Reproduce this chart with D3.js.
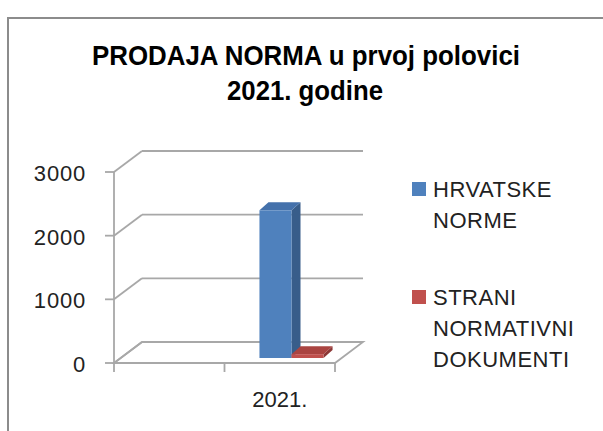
<!DOCTYPE html>
<html>
<head>
<meta charset="utf-8">
<script src="https://cdn.jsdelivr.net/npm/d3@7"></script>
<style>
  html, body { margin: 0; padding: 0; background: #fff; }
  svg { display: block; }
</style>
</head>
<body>
<svg id="chart" width="603" height="431"></svg>
<script>
// ---- data ----
const categories = ["", "2021."];
const hrvatskeNorme = [null, 2320];
const straniDokumenti = [null, 60];
const seriesNames = ["HRVATSKE NORME", "STRANI NORMATIVNI DOKUMENTI"];
const legendLines = [["HRVATSKE", "NORME"], ["STRANI", "NORMATIVNI", "DOKUMENTI"]];
const yTicks = [0, 1000, 2000, 3000];
const titleLines = ["PRODAJA NORMA u prvoj polovici", "2021. godine"];

// ---- layout ----
const svg = d3.select("#chart");
const font = "'Liberation Sans', Arial, sans-serif";
const grid = "#a8a8a8";
const depth = { dx: 28, dy: -21 };

const x = d3.scaleBand().domain(categories).range([114, 335]).padding(0);
const y = d3.scaleLinear().domain([0, 3000]).range([363, 172]);

// frame
svg.append("rect").attr("x", 8).attr("y", 18).attr("width", 700).attr("height", 500)
  .attr("fill", "#fff").attr("stroke", "#8c8c8c").attr("stroke-width", 2);

// title
const tl = svg.append("g").attr("font-family", font).attr("font-weight", "bold")
  .attr("fill", "#000").attr("text-anchor", "middle");
tl.append("text").attr("x", 306).attr("y", 65).attr("font-size", 28)
  .attr("textLength", 428).attr("lengthAdjust", "spacingAndGlyphs").text(titleLines[0]);
tl.append("text").attr("x", 305).attr("y", 100).attr("font-size", 28)
  .attr("textLength", 156).attr("lengthAdjust", "spacingAndGlyphs").text(titleLines[1]);

// walls: gridlines
const x0 = x.range()[0], x1 = x.range()[1];
const gWall = svg.append("g").attr("stroke", grid).attr("stroke-width", 1.8).attr("fill", "none");
// floor
const y0 = y(0);
gWall.append("path")
  .attr("d", `M${x0},${y0} L${x1},${y0} L${x1 + depth.dx},${y0 + depth.dy} L${x0 + depth.dx},${y0 + depth.dy} Z`)
  .attr("fill", "#fff");
yTicks.forEach(t => {
  const yy = y(t);
  // side wall diagonal
  gWall.append("line").attr("x1", x0).attr("y1", yy).attr("x2", x0 + depth.dx).attr("y2", yy + depth.dy);
  // back wall gridline
  gWall.append("line").attr("x1", x0 + depth.dx).attr("y1", yy + depth.dy)
    .attr("x2", x1 + depth.dx).attr("y2", yy + depth.dy);
});
// value axis
gWall.append("line").attr("x1", x0).attr("y1", y(3000)).attr("x2", x0).attr("y2", y0 + 1);
yTicks.forEach(t => {
  gWall.append("line").attr("x1", x0 - 9).attr("y1", y(t)).attr("x2", x0).attr("y2", y(t));
});
// category ticks
const bounds = categories.map(c => x(c)).concat([x1]);
bounds.forEach(b => {
  gWall.append("line").attr("x1", b).attr("y1", y0).attr("x2", b).attr("y2", y0 + 9);
});

// y labels
svg.append("g").attr("font-family", font).attr("font-size", 22).attr("fill", "#222")
  .attr("text-anchor", "end").attr("letter-spacing", 0.8)
  .selectAll("text").data(yTicks).join("text")
  .attr("x", 86).attr("y", d => y(d) + 9).text(d => d);

// x labels
svg.append("g").attr("font-family", font).attr("font-size", 22).attr("fill", "#222")
  .attr("text-anchor", "middle")
  .selectAll("text").data(categories.filter(c => c !== "")).join("text")
  .attr("x", c => x(c) + x.bandwidth() / 2).attr("y", 407).text(c => c);

// bars (3D columns)
const series = [
  { values: hrvatskeNorme, front: "#4f81bd", top: "#4471ab", side: "#385d8a" },
  { values: straniDokumenti, front: "#c0504d", top: "#aa4441", side: "#8c3836" }
];
const shift = { dx: 7, dy: -5 };       // bar placement depth
const bd = { dx: 9, dy: -8 };          // bar depth
const gBars = svg.append("g");
series.forEach((s, si) => {
  categories.forEach((c, ci) => {
    const v = s.values[ci];
    if (v == null) return;
    const bw = x.bandwidth() * 0.29;
    const left = x(c) + x.bandwidth() * 0.253 + si * bw + shift.dx;
    const right = left + bw;
    const base = y(0) + shift.dy;
    const top = y(v) + shift.dy;
    // side
    gBars.append("path")
      .attr("d", `M${right},${top} L${right + bd.dx},${top + bd.dy} L${right + bd.dx},${base + bd.dy} L${right},${base} Z`)
      .attr("fill", s.side);
    // top
    gBars.append("path")
      .attr("d", `M${left},${top} L${left + bd.dx},${top + bd.dy} L${right + bd.dx},${top + bd.dy} L${right},${top} Z`)
      .attr("fill", s.top);
    // front
    gBars.append("rect").attr("x", left).attr("y", top).attr("width", bw).attr("height", base - top)
      .attr("fill", s.front);
  });
});

// legend
const legColors = [series[0].front, series[1].front];
const legY = [197, 305];
const gLeg = svg.append("g").attr("font-family", font).attr("font-size", 22).attr("fill", "#222")
  .attr("letter-spacing", 0.5);
legendLines.forEach((lines, i) => {
  gLeg.append("rect").attr("x", 412).attr("y", legY[i] - 15).attr("width", 14).attr("height", 14)
    .attr("fill", legColors[i]);
  lines.forEach((ln, j) => {
    gLeg.append("text").attr("x", 433).attr("y", legY[i] + j * 31).text(ln);
  });
});
</script>
</body>
</html>
